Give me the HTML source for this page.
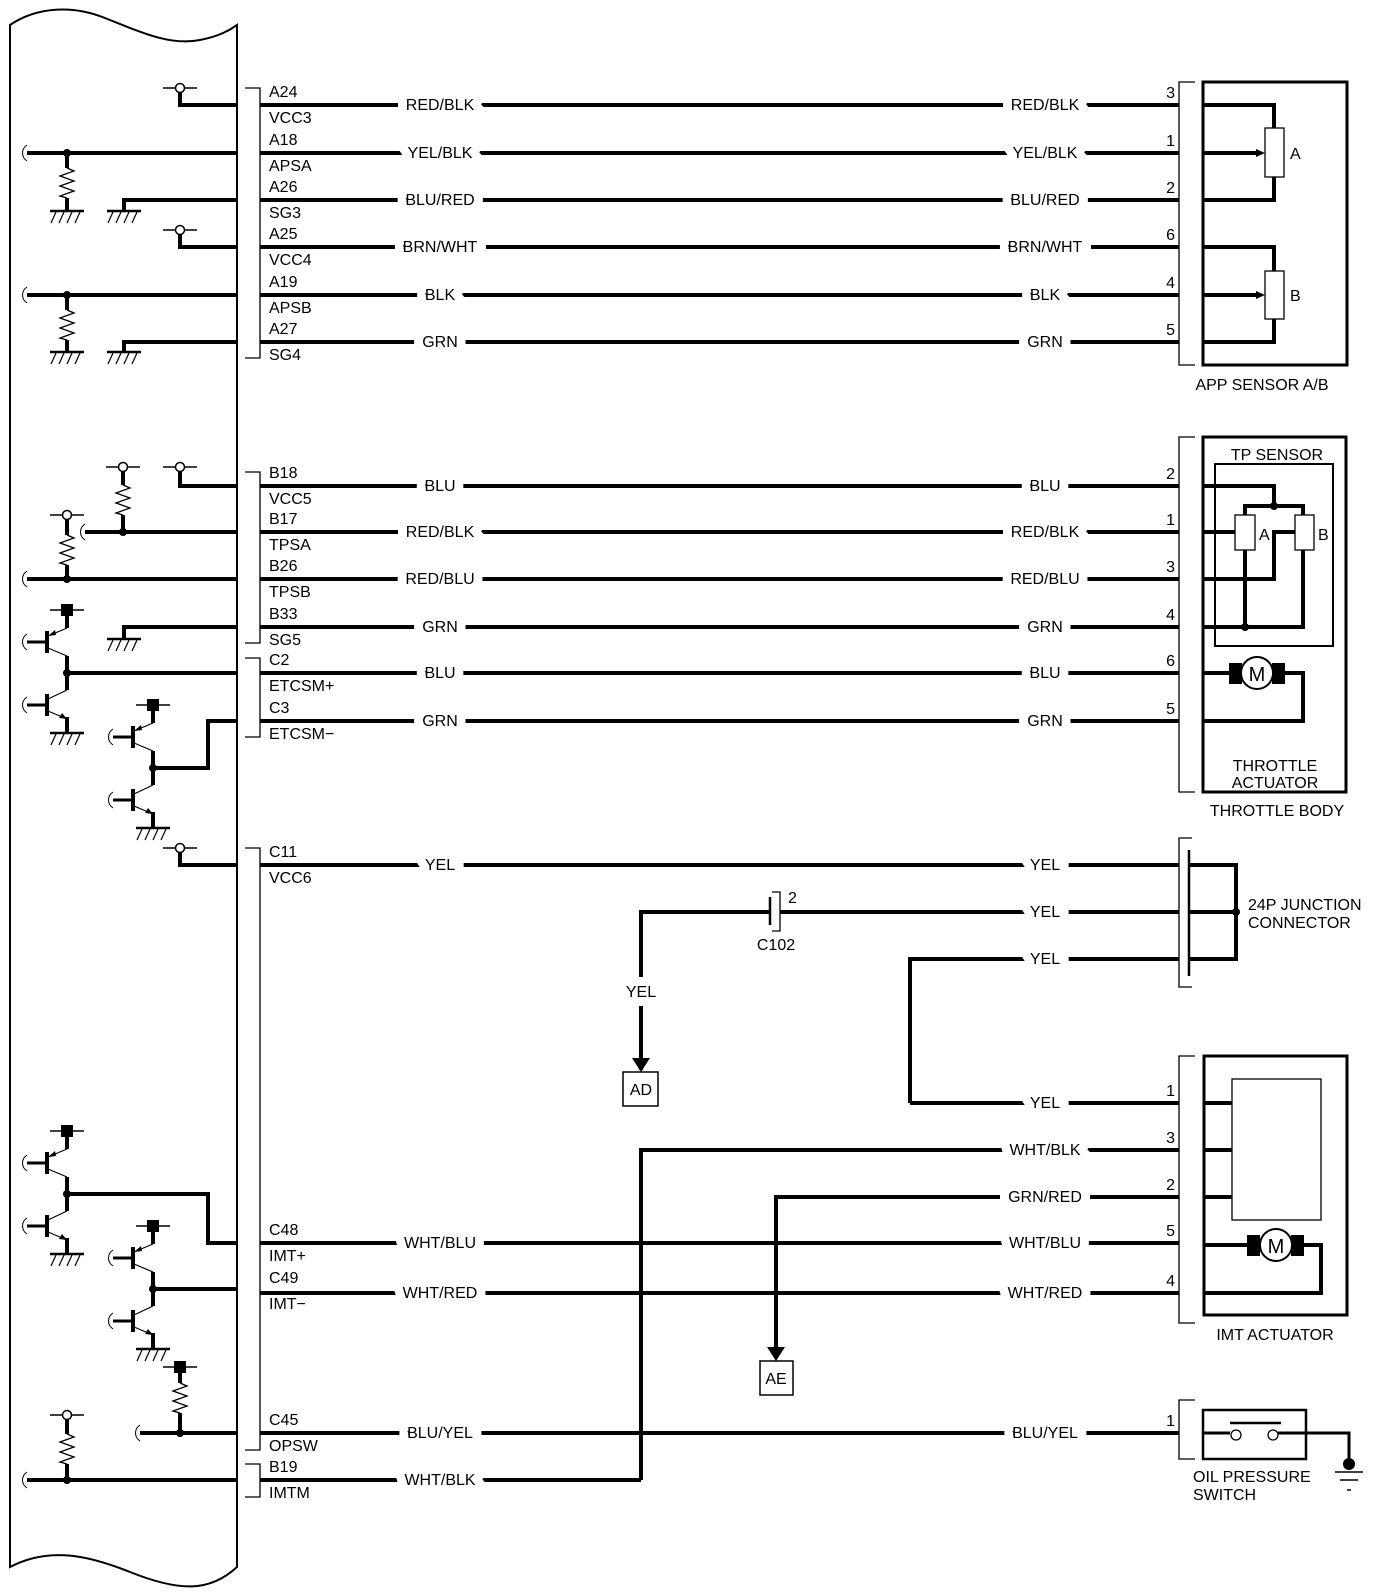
<!DOCTYPE html>
<html><head><meta charset="utf-8"><style>
html,body{margin:0;padding:0;background:#fff;}
svg{display:block;}
text{font-family:"Liberation Sans",Arial,sans-serif;font-size:16px;fill:#000;}
.wl{paint-order:stroke;stroke:#fff;stroke-width:18px;text-anchor:middle;}
.pn{text-anchor:end;}
</style></head><body>
<svg width="1392" height="1594" viewBox="0 0 1392 1594" xmlns="http://www.w3.org/2000/svg">
<defs>
<g id="gnd" stroke="#000" fill="none">
  <line x1="-17" y1="0" x2="17" y2="0" stroke-width="2.5"/>
  <line x1="-11" y1="1" x2="-16" y2="12" stroke-width="1.2"/>
  <line x1="-3" y1="1" x2="-8" y2="12" stroke-width="1.2"/>
  <line x1="5" y1="1" x2="0" y2="12" stroke-width="1.2"/>
  <line x1="13" y1="1" x2="8" y2="12" stroke-width="1.2"/>
</g>
<g id="vcc" stroke="#000">
  <line x1="-17" y1="0" x2="17" y2="0" stroke-width="1.5"/>
  <circle cx="0" cy="0" r="4.5" fill="#fff" stroke-width="1.5"/>
</g>
<g id="sup" stroke="#000">
  <line x1="-17" y1="0" x2="17" y2="0" stroke-width="1.5"/>
  <rect x="-6" y="-6" width="12" height="12" fill="#000" stroke="none"/>
</g>
<path id="zig" d="M0,0 L7,3 L-7,8 L7,13 L-7,18 L7,23 L-7,28 L0,30" fill="none" stroke="#000" stroke-width="1.3"/>
<path id="sq" d="M0,-8 C-6,-4 -6,4 0,8" fill="none" stroke="#000" stroke-width="1"/>
<g id="tpair" stroke="#000" fill="none">
  <use href="#sup"/>
  <line x1="0" y1="0" x2="0" y2="18" stroke-width="4"/>
  <line x1="-20" y1="21" x2="-20" y2="43" stroke-width="4"/>
  <line x1="-40" y1="32" x2="-20" y2="32" stroke-width="3"/>
  <use href="#sq" x="-40" y="32"/>
  <line x1="0" y1="18" x2="-19" y2="26" stroke-width="1.2"/>
  <path d="M-19,26 l7,-6 l1,5 z" fill="#000" stroke="none"/>
  <line x1="-19" y1="38" x2="0" y2="46" stroke-width="1.2"/>
  <line x1="0" y1="46" x2="0" y2="80" stroke-width="4"/>
  <circle cx="0" cy="63" r="4" fill="#000" stroke="none"/>
  <line x1="-20" y1="84" x2="-20" y2="106" stroke-width="4"/>
  <line x1="-40" y1="95" x2="-20" y2="95" stroke-width="3"/>
  <use href="#sq" x="-40" y="95"/>
  <line x1="0" y1="80" x2="-19" y2="89" stroke-width="1.2"/>
  <line x1="-19" y1="101" x2="0" y2="109" stroke-width="1.2"/>
  <path d="M0,109 l-8,-1 l3,-5 z" fill="#000" stroke="none"/>
  <line x1="0" y1="107" x2="0" y2="123" stroke-width="4"/>
  <use href="#gnd" y="123"/>
</g>
</defs>

<path d="M10,1567 L10,25 C35,8 70,4 105,18 C140,32 170,46 200,40 C220,36 230,30 237,25 L237,1567 C210,1592 180,1592 130,1572 C90,1556 50,1546 10,1567 Z" fill="none" stroke="#000" stroke-width="2"/>

<g stroke="#000" fill="none">
<path d="M245,88 H260 V358 H245" stroke-width="1.3"/>
<path d="M245,472 H260 V643 H245" stroke-width="1.3"/>
<path d="M245,658 H260 V737 H245" stroke-width="1.3"/>
<path d="M245,848 H260 V1450 H245" stroke-width="1.3"/>
<path d="M245,1464 H260 V1497 H245" stroke-width="1.3"/>
<path d="M1195,82 H1179 V365 H1195" stroke-width="1.3"/>
<path d="M1195,437 H1179 V792 H1195" stroke-width="1.3"/>
<path d="M1192,838 H1179 V987 H1192" stroke-width="1.3"/>
<path d="M1195,1056 H1179 V1323 H1195" stroke-width="1.3"/>
<path d="M1195,1400 H1179 V1459 H1195" stroke-width="1.3"/>

<g stroke-width="4">
<path d="M180,92 V105 H237"/>
<path d="M27,153 H237"/><path d="M67,153 V168 M67,198 V211"/>
<path d="M124,211 V200 H237"/>
<path d="M180,234 V247 H237"/>
<path d="M27,295 H237"/><path d="M67,295 V310 M67,340 V352"/>
<path d="M124,352 V342 H237"/>
<path d="M180,471 V486 H237"/>
<path d="M123,471 V485 M123,515 V532"/>
<path d="M85,532 H237"/>
<path d="M67,519 V535 M67,565 V579"/>
<path d="M27,579 H237"/>
<path d="M124,639 V627 H237"/>
<path d="M67,673 H237"/>
<path d="M153,768 H208 V721 H237"/>
<path d="M180,852 V865 H237"/>
<path d="M67,1194 H208 V1243 H237"/>
<path d="M153,1289 H237"/>
<path d="M180,1367 V1383 M180,1413 V1433"/>
<path d="M140,1433 H237"/>
<path d="M67,1419 V1434 M67,1464 V1480"/>
<path d="M27,1480 H237"/>
</g>
</g>
<use href="#vcc" x="180" y="88"/><use href="#vcc" x="180" y="230"/>
<use href="#vcc" x="180" y="467"/><use href="#vcc" x="123" y="467"/>
<use href="#vcc" x="67" y="515"/><use href="#vcc" x="180" y="848"/>
<use href="#vcc" x="67" y="1415"/><use href="#sup" x="180" y="1367"/>
<use href="#zig" x="67" y="168"/><use href="#zig" x="67" y="310"/>
<use href="#zig" x="123" y="485"/><use href="#zig" x="67" y="535"/>
<use href="#zig" x="180" y="1383"/><use href="#zig" x="67" y="1434"/>
<use href="#gnd" x="67" y="211"/><use href="#gnd" x="124" y="211"/>
<use href="#gnd" x="67" y="352"/><use href="#gnd" x="124" y="352"/>
<use href="#gnd" x="124" y="639"/>
<use href="#sq" x="27" y="153"/><use href="#sq" x="27" y="295"/>
<use href="#sq" x="85" y="532"/><use href="#sq" x="27" y="579"/>
<use href="#sq" x="140" y="1433"/><use href="#sq" x="27" y="1480"/>
<g fill="#000">
<circle cx="67" cy="153" r="4"/><circle cx="67" cy="295" r="4"/>
<circle cx="123" cy="532" r="4"/><circle cx="67" cy="579" r="4"/>
<circle cx="180" cy="1433" r="4"/><circle cx="67" cy="1480" r="4"/>
</g>
<use href="#tpair" x="67" y="610"/>
<use href="#tpair" x="153" y="705"/>
<use href="#tpair" x="67" y="1131"/>
<use href="#tpair" x="153" y="1226"/>

<g stroke="#000" stroke-width="4" fill="none">
<path d="M260,105H1179 M260,153H1179 M260,200H1179 M260,247H1179 M260,295H1179 M260,342H1179"/>
<path d="M260,486H1179 M260,532H1179 M260,579H1179 M260,627H1179 M260,673H1179 M260,721H1179"/>
<path d="M260,865H1179"/>
<path d="M641,1070 V912 H770 M780,912 H1179"/>
<path d="M910,1103 V959 H1179"/>
<path d="M910,1103 H1179"/>
<path d="M641,1480 V1150 H1179"/>
<path d="M776,1355 V1197 H1179"/>
<path d="M260,1243H1179 M260,1293H1179 M260,1433H1179 M260,1480H641"/>
</g>
<line x1="770" y1="897" x2="770" y2="925" stroke="#000" stroke-width="2.5"/>
<path d="M772,892 H780 V931 H772" fill="none" stroke="#000" stroke-width="1.3"/>
<text x="788" y="903">2</text>
<text x="776" y="950" text-anchor="middle">C102</text>
<path d="M632,1058 H650 L641,1072 Z" fill="#000"/>
<rect x="623" y="1072" width="35" height="34" fill="none" stroke="#000" stroke-width="1.5"/>
<text x="641" y="1095" text-anchor="middle">AD</text>
<text x="641" y="997" class="wl">YEL</text>
<path d="M767,1347 H785 L776,1361 Z" fill="#000"/>
<rect x="760" y="1361" width="33" height="34" fill="none" stroke="#000" stroke-width="1.5"/>
<text x="776" y="1384" text-anchor="middle">AE</text>

<g>
<text x="269" y="97">A24</text><text x="269" y="123">VCC3</text>
<text x="269" y="145">A18</text><text x="269" y="171">APSA</text>
<text x="269" y="192">A26</text><text x="269" y="218">SG3</text>
<text x="269" y="239">A25</text><text x="269" y="265">VCC4</text>
<text x="269" y="287">A19</text><text x="269" y="313">APSB</text>
<text x="269" y="334">A27</text><text x="269" y="360">SG4</text>
<text x="269" y="478">B18</text><text x="269" y="504">VCC5</text>
<text x="269" y="524">B17</text><text x="269" y="550">TPSA</text>
<text x="269" y="571">B26</text><text x="269" y="597">TPSB</text>
<text x="269" y="619">B33</text><text x="269" y="645">SG5</text>
<text x="269" y="665">C2</text><text x="269" y="691">ETCSM+</text>
<text x="269" y="713">C3</text><text x="269" y="739">ETCSM−</text>
<text x="269" y="857">C11</text><text x="269" y="883">VCC6</text>
<text x="269" y="1235">C48</text><text x="269" y="1261">IMT+</text>
<text x="269" y="1283">C49</text><text x="269" y="1309">IMT−</text>
<text x="269" y="1425">C45</text><text x="269" y="1451">OPSW</text>
<text x="269" y="1472">B19</text><text x="269" y="1498">IMTM</text>
</g>
<g>
<text x="440" y="110" class="wl">RED/BLK</text><text x="1045" y="110" class="wl">RED/BLK</text>
<text x="440" y="158" class="wl">YEL/BLK</text><text x="1045" y="158" class="wl">YEL/BLK</text>
<text x="440" y="205" class="wl">BLU/RED</text><text x="1045" y="205" class="wl">BLU/RED</text>
<text x="440" y="252" class="wl">BRN/WHT</text><text x="1045" y="252" class="wl">BRN/WHT</text>
<text x="440" y="300" class="wl">BLK</text><text x="1045" y="300" class="wl">BLK</text>
<text x="440" y="347" class="wl">GRN</text><text x="1045" y="347" class="wl">GRN</text>
<text x="440" y="491" class="wl">BLU</text><text x="1045" y="491" class="wl">BLU</text>
<text x="440" y="537" class="wl">RED/BLK</text><text x="1045" y="537" class="wl">RED/BLK</text>
<text x="440" y="584" class="wl">RED/BLU</text><text x="1045" y="584" class="wl">RED/BLU</text>
<text x="440" y="632" class="wl">GRN</text><text x="1045" y="632" class="wl">GRN</text>
<text x="440" y="678" class="wl">BLU</text><text x="1045" y="678" class="wl">BLU</text>
<text x="440" y="726" class="wl">GRN</text><text x="1045" y="726" class="wl">GRN</text>
<text x="440" y="870" class="wl">YEL</text><text x="1045" y="870" class="wl">YEL</text>
<text x="1045" y="917" class="wl">YEL</text>
<text x="1045" y="964" class="wl">YEL</text>
<text x="1045" y="1108" class="wl">YEL</text>
<text x="1045" y="1155" class="wl">WHT/BLK</text>
<text x="1045" y="1202" class="wl">GRN/RED</text>
<text x="440" y="1248" class="wl">WHT/BLU</text><text x="1045" y="1248" class="wl">WHT/BLU</text>
<text x="440" y="1298" class="wl">WHT/RED</text><text x="1045" y="1298" class="wl">WHT/RED</text>
<text x="440" y="1438" class="wl">BLU/YEL</text><text x="1045" y="1438" class="wl">BLU/YEL</text>
<text x="440" y="1485" class="wl">WHT/BLK</text>
</g>
<g>
<text x="1175" y="98" class="pn">3</text><text x="1175" y="146" class="pn">1</text>
<text x="1175" y="193" class="pn">2</text><text x="1175" y="240" class="pn">6</text>
<text x="1175" y="288" class="pn">4</text><text x="1175" y="335" class="pn">5</text>
<text x="1175" y="479" class="pn">2</text><text x="1175" y="525" class="pn">1</text>
<text x="1175" y="572" class="pn">3</text><text x="1175" y="620" class="pn">4</text>
<text x="1175" y="666" class="pn">6</text><text x="1175" y="714" class="pn">5</text>
<text x="1175" y="1096" class="pn">1</text><text x="1175" y="1143" class="pn">3</text>
<text x="1175" y="1190" class="pn">2</text><text x="1175" y="1236" class="pn">5</text>
<text x="1175" y="1286" class="pn">4</text><text x="1175" y="1426" class="pn">1</text>
</g>

<g stroke="#000" fill="none">
<rect x="1203" y="82" width="144" height="283" stroke-width="3"/>
<path d="M1203,105 H1274 V128 M1274,177 V200 H1203" stroke-width="4"/>
<path d="M1203,153 H1258" stroke-width="4"/>
<rect x="1265" y="128" width="19" height="49" stroke-width="1.3" fill="#fff"/>
<path d="M1203,247 H1274 V271 M1274,319 V342 H1203" stroke-width="4"/>
<path d="M1203,295 H1258" stroke-width="4"/>
<rect x="1265" y="271" width="19" height="48" stroke-width="1.3" fill="#fff"/>
</g>
<path d="M1256,149 L1265,153 L1256,157 Z M1256,291 L1265,295 L1256,299 Z" fill="#000"/>
<text x="1290" y="159">A</text><text x="1290" y="301">B</text>
<text x="1262" y="390" text-anchor="middle">APP SENSOR A/B</text>

<g stroke="#000" fill="none">
<rect x="1203" y="437" width="143" height="355" stroke-width="3"/>
<rect x="1215" y="464" width="118" height="182" stroke-width="2"/>
<path d="M1203,486 H1274 V506 M1245,515 V506 H1303 V515" stroke-width="4"/>
<path d="M1203,532 H1235" stroke-width="4"/>
<path d="M1203,579 H1274 V532 H1295" stroke-width="4"/>
<path d="M1245,550 V627 M1203,627 H1303 V550" stroke-width="4"/>
<rect x="1235" y="515" width="20" height="35" stroke-width="1.3" fill="#fff"/>
<rect x="1295" y="515" width="19" height="35" stroke-width="1.3" fill="#fff"/>
<path d="M1203,673 H1232 M1282,673 H1303 V721 H1203" stroke-width="4"/>
<circle cx="1257" cy="673" r="16" stroke-width="2" fill="#fff"/>
</g>
<rect x="1229" y="663" width="13" height="21" fill="#000"/>
<rect x="1272" y="663" width="13" height="21" fill="#000"/>
<text x="1257" y="681" text-anchor="middle" style="font-size:20px">M</text>
<g fill="#000"><circle cx="1274" cy="506" r="4"/><circle cx="1245" cy="627" r="4"/></g>
<text x="1259" y="540">A</text><text x="1318" y="540">B</text>
<text x="1277" y="460" text-anchor="middle">TP SENSOR</text>
<text x="1275" y="771" text-anchor="middle">THROTTLE</text>
<text x="1275" y="788" text-anchor="middle">ACTUATOR</text>
<text x="1277" y="816" text-anchor="middle">THROTTLE BODY</text>

<g stroke="#000" fill="none">
<line x1="1189" y1="850" x2="1189" y2="976" stroke-width="2.5"/>
<path d="M1189,865 H1236 V959 H1189 M1189,912 H1236" stroke-width="4"/>
</g>
<circle cx="1236" cy="912" r="4" fill="#000"/>
<text x="1248" y="910">24P JUNCTION</text>
<text x="1248" y="928">CONNECTOR</text>

<g stroke="#000" fill="none">
<rect x="1204" y="1056" width="143" height="259" stroke-width="3"/>
<rect x="1232" y="1079" width="89" height="141" stroke-width="1.3"/>
<path d="M1204,1103 H1232 M1204,1150 H1232 M1204,1197 H1232" stroke-width="4"/>
<path d="M1204,1245 H1252 M1300,1245 H1321 V1293 H1204" stroke-width="4"/>
<circle cx="1276" cy="1245" r="16" stroke-width="2" fill="#fff"/>
</g>
<rect x="1247" y="1235" width="13" height="21" fill="#000"/>
<rect x="1291" y="1235" width="13" height="21" fill="#000"/>
<text x="1276" y="1253" text-anchor="middle" style="font-size:20px">M</text>
<text x="1275" y="1340" text-anchor="middle">IMT ACTUATOR</text>

<g stroke="#000" fill="none">
<rect x="1203" y="1410" width="103" height="49" stroke-width="2.5"/>
<path d="M1203,1433 H1230 M1278,1433 H1306 M1306,1433 H1349 V1462" stroke-width="3"/>
<line x1="1230" y1="1423" x2="1281" y2="1423" stroke-width="2.5"/>
<circle cx="1236" cy="1435" r="5" fill="#fff" stroke-width="1.3"/>
<circle cx="1273" cy="1435" r="5" fill="#fff" stroke-width="1.3"/>
<line x1="1335" y1="1472" x2="1363" y2="1472" stroke-width="1.5"/>
<line x1="1340" y1="1480" x2="1358" y2="1480" stroke-width="1.5"/>
<line x1="1347" y1="1490" x2="1351" y2="1490" stroke-width="1.5"/>
</g>
<circle cx="1349" cy="1464" r="6" fill="#000"/>
<text x="1193" y="1482">OIL PRESSURE</text>
<text x="1193" y="1500">SWITCH</text>
</svg>
</body></html>
